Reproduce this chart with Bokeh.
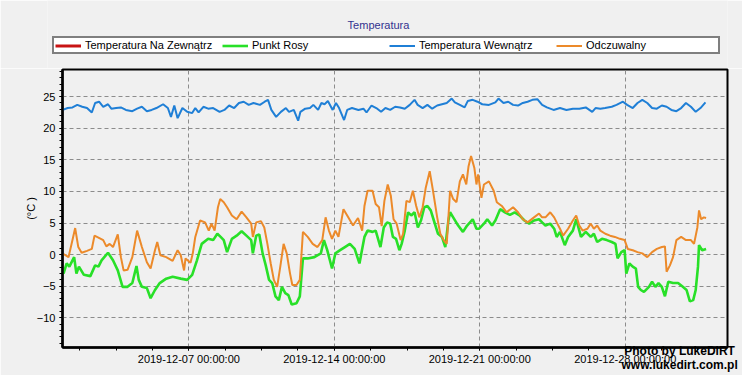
import numpy as np
import pandas as pd
from bokeh.plotting import figure
from bokeh.layouts import column, row
from bokeh.models import (Range1d, FixedTicker, DatetimeTickFormatter, Legend, LegendItem,
                          Label, LinearAxis)
from bokeh.embed import file_html
from bokeh.resources import INLINE

# ---------------- data (day = fractional day of December 2019) ----------------
title_text = "Temperatura"
watermark_text = "Photo by LukeDiRT\nwww.lukedirt.com.pl"
series_labels = ["Temperatura Na Zewnątrz", "Punkt Rosy", "Temperatura Wewnątrz", "Odczuwalny"]
series_colors = ["#c81414", "#28e028", "#1f7fd6", "#ec8a2a"]
x_tick_dates = ["2019-12-07", "2019-12-14", "2019-12-21", "2019-12-28"]
y_ticks = [-10, -5, 0, 5, 10, 15, 20, 25]

outside_day = []
outside_temp = []

dew_day = [0.97, 1.12, 1.25, 1.48, 1.59, 1.71, 1.95, 2.26, 2.49, 2.65, 2.80, 3.11, 3.35, 3.58,
           3.81, 4.05, 4.28, 4.48, 4.59, 4.74, 4.98, 5.16, 5.37, 5.60, 5.91, 6.22, 6.61, 6.92,
           7.16, 7.39, 7.62, 7.93, 8.17, 8.37, 8.53, 8.68, 8.84, 9.07, 9.30, 9.54, 9.77, 10.00,
           10.08, 10.24, 10.39, 10.55, 10.70, 10.86, 11.01, 11.17, 11.33, 11.48, 11.64, 11.79,
           11.95, 12.18, 12.34, 12.49, 12.72, 13.04, 13.35, 13.50, 13.66, 13.89, 14.05, 14.28,
           14.51, 14.75, 14.98, 15.21, 15.45, 15.60, 15.84, 15.99, 16.22, 16.38, 16.54, 16.69,
           16.82, 16.97, 17.13, 17.24, 17.39, 17.55, 17.70, 17.86, 18.02, 18.17, 18.33, 18.48,
           18.64, 18.79, 18.99, 19.18, 19.34, 19.49, 19.57, 19.72, 19.96, 20.19, 20.39, 20.66,
           20.84, 20.97, 21.20, 21.36, 21.59, 21.75, 21.98, 22.21, 22.45, 22.68, 22.91, 23.15,
           23.38, 23.61, 23.85, 24.00, 24.16, 24.39, 24.58, 24.70, 24.86, 25.09, 25.25, 25.48,
           25.64, 25.87, 26.10, 26.34, 26.49, 26.65, 26.88, 27.11, 27.35, 27.53, 27.63, 27.81,
           27.97, 28.05, 28.20, 28.36, 28.51, 28.62, 28.75, 28.90, 29.14, 29.29, 29.45, 29.60,
           29.76, 29.91, 30.07, 30.30, 30.54, 30.77, 30.95, 31.11, 31.27, 31.39, 31.50, 31.55,
           31.70, 31.89]
dew_temp = [-3.0, -1.4, -1.9, -0.4, -3.0, -1.9, -3.2, -3.4, -1.7, -1.9, -0.9, 0.3, -0.9, -2.5,
            -5.1, -5.1, -4.5, -1.8, -4.0, -5.1, -5.3, -6.9, -5.6, -4.5, -3.8, -3.5, -3.8, -4.0,
            -3.2, -0.9, 1.7, 2.5, 2.3, 3.3, 2.8, 2.3, 0.4, 2.5, 3.0, 3.7, 3.0, 2.3,
            0.2, 3.0, 3.2, 0.2, -1.7, -4.0, -4.5, -6.6, -7.2, -5.1, -6.1, -6.4,
            -7.9, -7.7, -6.6, -0.6, -0.6, -0.4, 0.2, 2.3, 0.7, -2.2, 0.2, 0.7,
            1.2, 1.7, 0.9, -1.4, 2.8, 3.8, 3.6, 3.8, 1.2, 4.3, 5.1, 4.9,
            2.8, 2.5, 0.7, 1.7, 3.8, 6.7, 6.2, 6.7, 4.3, 5.4, 7.5, 7.7,
            7.0, 5.4, 3.3, 2.8, 1.2, 5.4, 6.7, 5.9, 4.6, 3.6, 4.6, 5.6,
            4.1, 4.1, 4.9, 5.6, 4.6, 5.4, 7.2, 6.7, 6.3, 6.7, 6.2, 5.4,
            4.9, 5.4, 5.6, 5.1, 4.6, 4.9, 4.1, 2.8, 3.6, 1.5, 2.8, 3.8,
            5.6, 2.8, 3.6, 2.8, 3.3, 2.0, 2.5, 2.3, 2.0, 1.7, -0.6, 0.4,
            0.7, -3.0, -1.4, -1.9, -2.2, -5.1, -5.6, -5.9, -5.1, -4.3, -5.1, -4.5,
            -5.1, -6.6, -4.3, -4.5, -4.5, -5.1, -5.6, -7.4, -7.2, -5.6, -1.9, 1.5,
            0.7, 0.9]

inside_day = [0.93, 1.17, 1.40, 1.63, 1.87, 2.10, 2.33, 2.49, 2.68, 2.88, 3.11, 3.27, 3.50, 3.73,
              3.97, 4.28, 4.51, 4.74, 4.98, 5.21, 5.44, 5.76, 5.99, 6.14, 6.30, 6.46, 6.69, 6.92,
              7.16, 7.31, 7.47, 7.70, 7.93, 8.17, 8.48, 8.71, 8.94, 9.18, 9.41, 9.64, 9.88, 10.11,
              10.42, 10.65, 10.81, 10.97, 11.20, 11.43, 11.67, 11.82, 12.05, 12.26, 12.37, 12.60,
              12.83, 12.99, 13.22, 13.38, 13.53, 13.69, 13.92, 14.08, 14.23, 14.47, 14.62, 14.85,
              15.16, 15.40, 15.55, 15.79, 16.02, 16.25, 16.46, 16.69, 16.93, 17.16, 17.39, 17.63,
              17.86, 18.01, 18.25, 18.48, 18.71, 18.95, 19.18, 19.41, 19.65, 19.80, 20.04, 20.27,
              20.42, 20.66, 20.89, 21.12, 21.44, 21.75, 21.90, 22.14, 22.37, 22.60, 22.84, 23.07,
              23.30, 23.53, 23.77, 24.00, 24.23, 24.55, 24.86, 25.17, 25.48, 25.79, 26.10, 26.41,
              26.57, 26.80, 27.03, 27.35, 27.58, 27.89, 28.09, 28.36, 28.59, 28.82, 29.06, 29.29,
              29.52, 29.76, 29.99, 30.22, 30.46, 30.69, 30.92, 31.16, 31.39, 31.62, 31.86]
inside_temp = [22.9, 23.2, 23.3, 23.7, 23.4, 23.2, 22.5, 24.0, 24.2, 23.4, 23.8, 23.1, 23.2, 23.3,
               22.9, 22.7, 23.1, 23.4, 22.7, 22.9, 23.2, 23.8, 23.2, 21.8, 23.6, 21.6, 23.2, 22.6,
               22.4, 23.2, 22.5, 23.4, 23.1, 23.2, 22.6, 22.9, 23.6, 23.2, 24.0, 24.2, 23.7, 24.0,
               23.7, 24.2, 24.5, 22.9, 21.8, 22.6, 23.2, 22.6, 22.9, 21.2, 22.6, 23.1,
               23.2, 23.7, 22.9, 24.0, 23.8, 24.3, 22.9, 24.0, 23.2, 21.3, 22.9, 23.2,
               22.9, 23.1, 22.5, 23.6, 23.2, 22.6, 23.2, 22.9, 23.4, 23.3, 23.1, 23.7,
               24.5, 23.7, 23.2, 23.7, 23.1, 23.6, 23.8, 24.0, 24.7, 24.1, 23.7, 23.3,
               24.3, 24.5, 24.2, 23.8, 23.7, 24.1, 24.7, 24.0, 24.2, 23.7, 23.6, 24.0,
               24.2, 24.5, 24.6, 23.7, 23.3, 22.9, 23.2, 22.9, 23.1, 23.1, 23.3, 22.6,
               23.2, 23.1, 23.2, 23.4, 23.7, 24.2, 23.7, 23.2, 24.0, 24.5, 24.0, 23.2,
               23.1, 23.6, 23.4, 22.9, 22.7, 23.2, 24.0, 23.4, 22.6, 23.2, 24.1]

feel_day = [0.97, 1.21, 1.40, 1.53, 1.68, 1.84, 2.10, 2.33, 2.46, 2.65, 2.88, 3.03, 3.19, 3.35,
            3.58, 3.73, 3.86, 4.05, 4.28, 4.51, 4.74, 4.98, 5.16, 5.37, 5.48, 5.63, 5.91, 6.22,
            6.46, 6.61, 6.77, 6.84, 7.08, 7.19, 7.31, 7.54, 7.78, 7.96, 8.09, 8.24, 8.40, 8.51,
            8.68, 8.84, 9.07, 9.30, 9.54, 9.77, 10.00, 10.08, 10.24, 10.47, 10.63, 10.78, 10.94,
            11.09, 11.25, 11.40, 11.56, 11.71, 11.87, 11.98, 12.18, 12.34, 12.49, 12.72, 12.96,
            13.19, 13.42, 13.58, 13.74, 13.89, 14.05, 14.20, 14.44, 14.67, 14.90, 15.14, 15.34,
            15.45, 15.60, 15.84, 15.99, 16.15, 16.28, 16.41, 16.57, 16.72, 16.85, 17.00, 17.19,
            17.31, 17.47, 17.63, 17.78, 17.94, 18.09, 18.25, 18.40, 18.59, 18.74, 18.95, 19.10,
            19.26, 19.41, 19.57, 19.72, 19.88, 20.04, 20.19, 20.35, 20.46, 20.58, 20.74, 20.84,
            20.92, 21.08, 21.20, 21.44, 21.67, 21.82, 22.06, 22.29, 22.60, 22.84, 23.07, 23.30,
            23.61, 23.85, 24.00, 24.16, 24.39, 24.58, 24.70, 24.86, 25.01, 25.25, 25.48, 25.64,
            25.79, 25.95, 26.18, 26.34, 26.49, 26.65, 26.80, 27.04, 27.27, 27.50, 27.74, 27.97,
            28.12, 28.36, 28.59, 28.82, 29.06, 29.29, 29.52, 29.76, 29.91, 29.99, 30.15, 30.30,
            30.46, 30.69, 30.92, 31.16, 31.31, 31.47, 31.55, 31.65, 31.78, 31.89]
feel_temp = [0.1, -0.4, 2.3, 4.2, 1.2, 0.3, 0.6, 0.9, 3.0, 2.7, 2.3, 1.3, 1.7, 1.2,
             3.2, -0.4, -2.5, -2.4, -0.4, 3.8, 1.2, -1.2, -2.2, 0.7, 2.0, -0.1, -0.4, -1.0,
             0.7, -0.1, -2.5, -0.6, -1.3, 0.2, 2.8, 5.4, 5.1, 3.8, 4.9, 3.8, 7.5, 8.8,
             8.3, 7.5, 6.2, 5.6, 6.8, 5.9, 4.9, 2.8, 5.1, 5.3, 4.3, 1.7, -1.4,
             -4.0, -5.1, -1.9, 1.7, 0.2, -3.0, -4.8, -4.8, -4.0, 3.6, 2.8, 1.7,
             1.2, 2.3, 5.9, 3.8, 2.5, 3.8, 2.8, 7.2, 5.9, 4.6, 5.8, 3.8,
             7.7, 10.1, 10.1, 8.0, 7.5, 4.5, 8.5, 11.1, 9.3, 5.6, 4.9, 2.3,
             3.3, 8.5, 8.3, 10.1, 7.7, 5.9, 7.5, 10.6, 13.2, 10.3, 5.9, 3.3,
             2.3, 1.7, 10.1, 8.8, 8.3, 11.6, 12.7, 11.1, 14.0, 15.6, 13.7, 11.1,
             12.7, 9.0, 11.1, 11.6, 10.1, 8.3, 7.7, 6.7, 7.5, 6.7, 5.6, 5.1,
             5.9, 6.5, 5.9, 5.9, 6.7, 5.9, 5.1, 4.1, 3.0, 4.1, 5.4, 6.2,
             4.6, 3.8, 4.1, 4.9, 4.1, 4.6, 3.8, 3.3, 3.0, 2.8, 2.5, 2.3,
             0.9, 0.7, 0.4, 0.2, -0.4, 0.4, 0.9, 1.2, 1.3, -2.7, -1.7, -0.4,
             2.3, 2.8, 2.3, 2.3, 1.7, 4.3, 7.0, 5.6, 5.9, 5.8]

x_start_str = "2019-11-30 22:05"
x_end_str = "2020-01-01 22:05"
y_start, y_end = -14.7, 29.3


def to_time(days):
    return pd.Timestamp("2019-12-01") + pd.to_timedelta(np.array(days, dtype=float) - 1.0, unit="D")


BG = "#f0f0f0"
FONT = "Liberation Sans"
GRID = "#8c8c8c"
W = 742
TOP_H = 68
LEFT = 62
TOP_LEFT = 47

# ---------------- header figure: title + legend (drawn inside its frame) ----------------
top = figure(width=W, height=TOP_H, output_backend="svg", toolbar_location=None, title=None,
             x_range=Range1d(0, 1), y_range=Range1d(0, 1),
             x_axis_location=None, y_axis_location=None)
top.min_border_left = TOP_LEFT
top.min_border_right = 15
top.min_border_top = 0
top.min_border_bottom = 0
top.background_fill_color = BG
top.border_fill_color = BG
top.outline_line_color = None
top.xgrid.visible = False
top.ygrid.visible = False

widths = [3, 2.6, 2, 2]
# legend keys styled like the series; their points lie outside the visible range
key_lines = [top.line([2, 3], [2, 3], line_color=c, line_width=w) for c, w in zip(series_colors, widths)]
legend = Legend(items=[LegendItem(label=lab, renderers=[r]) for lab, r in zip(series_labels, key_lines)],
                orientation="horizontal", location=(5, 14), margin=0,
                label_text_font=FONT, label_text_font_size="11px", label_text_color="black",
                glyph_width=26, glyph_height=11, label_height=11, label_width=131,
                label_standoff=4, spacing=6, padding=1,
                border_line_color="black", border_line_width=2,
                background_fill_color="white", background_fill_alpha=1.0)
top.add_layout(legend)
top.add_layout(Label(x=378 - TOP_LEFT, y=TOP_H - 24, x_units="screen", y_units="screen",
                     text=title_text, text_align="center", text_baseline="middle",
                     text_font=FONT, text_font_size="11px", text_color="#33338f"))

# ---------------- main chart ----------------
p = figure(width=W, height=307, output_backend="svg", toolbar_location=None, title=None,
           x_axis_type="datetime",
           x_range=Range1d(pd.Timestamp(x_start_str), pd.Timestamp(x_end_str)),
           y_range=Range1d(y_start, y_end))
p.min_border_left = LEFT
p.min_border_right = 15
p.min_border_top = 1
p.min_border_bottom = 28
p.background_fill_color = BG
p.border_fill_color = BG
p.outline_line_color = "black"
p.outline_line_width = 2

p.line(to_time(outside_day), outside_temp, line_color=series_colors[0], line_width=3)
p.line(to_time(dew_day), dew_temp, line_color=series_colors[1], line_width=2.6)
p.line(to_time(inside_day), inside_temp, line_color=series_colors[2], line_width=2)
p.line(to_time(feel_day), feel_temp, line_color=series_colors[3], line_width=2)

ms = lambda s: pd.Timestamp(s).value // 10**6
major_x = [ms(d) for d in x_tick_dates]
week_ms = 7 * 24 * 3600 * 1000
minor_x = [major_x[0] + k * week_ms / 4 for k in range(-3, 16)]
xticker = FixedTicker(ticks=major_x, minor_ticks=minor_x)
p.xaxis.ticker = xticker
p.xgrid.ticker = xticker
fmt = "%Y-%m-%d %H:%M:%S"
p.xaxis.formatter = DatetimeTickFormatter(microseconds=fmt, milliseconds=fmt, seconds=fmt,
                                          minsec=fmt, minutes=fmt, hourmin=fmt, hours=fmt,
                                          days=fmt, months=fmt, years=fmt)
yticker = FixedTicker(ticks=y_ticks, minor_ticks=list(range(-14, 30)))
p.yaxis.ticker = yticker
p.ygrid.ticker = yticker
p.yaxis.axis_label = "(°C )"

for ax in (p.xaxis[0], p.yaxis[0]):
    ax.axis_line_color = "black"
    ax.axis_line_width = 2.5
    ax.major_tick_line_color = "black"
    ax.minor_tick_line_color = "black"
    ax.major_tick_in = 0
    ax.minor_tick_in = 0
    ax.major_tick_out = 3
    ax.minor_tick_out = 3
    ax.major_label_text_font = FONT
    ax.major_label_text_font_size = "11px"
    ax.major_label_text_color = "black"
    ax.axis_label_text_font = FONT
    ax.axis_label_text_font_size = "11px"
    ax.axis_label_text_font_style = "normal"
    ax.axis_label_text_color = "black"
p.yaxis.major_label_standoff = 4
p.xaxis.major_label_standoff = 2
p.yaxis.axis_label_standoff = -3

for g in (p.xgrid[0], p.ygrid[0]):
    g.grid_line_color = GRID
    g.grid_line_dash = "4 3"
    g.grid_line_width = 1

# watermark: label-only axis stacked under the date axis
p.extra_x_ranges = {"ann": Range1d(0, 1000)}
wm_pos = 928
wm_axis = LinearAxis(x_range_name="ann", ticker=FixedTicker(ticks=[wm_pos]),
                     major_label_overrides={wm_pos: watermark_text},
                     axis_line_color=None, major_tick_line_color=None,
                     minor_tick_line_color=None, major_tick_out=0, minor_tick_out=0,
                     major_label_standoff=-24,
                     major_label_text_font=FONT, major_label_text_font_size="12px",
                     major_label_text_line_height=1.0,
                     major_label_text_font_style="bold", major_label_text_color="black")
p.add_layout(wm_axis, "below")

layout = column(row(top), p, spacing=0)
open("out.html", "w").write(file_html(layout, INLINE))
